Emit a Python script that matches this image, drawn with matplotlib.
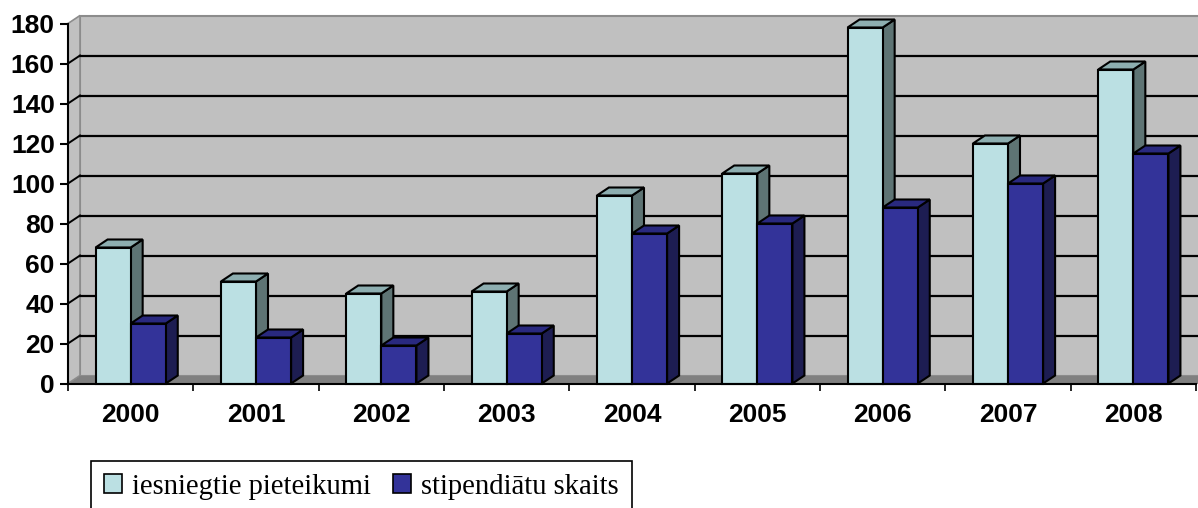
"""Excel-style 3D clustered columns: applications vs. scholarship holders per year."""

import matplotlib.pyplot as plt
from matplotlib.patches import Patch, Polygon

years = ["2000", "2001", "2002", "2003", "2004", "2005", "2006", "2007", "2008"]
iesniegtie = [68, 51, 45, 46, 94, 105, 178, 120, 157]
stipendiati = [30, 23, 19, 25, 75, 80, 88, 100, 115]
series_names = ["iesniegtie pieteikumi", "stipendiātu skaits"]
y_ticks = list(range(0, 181, 20))

# face colours: front, top, side
LIGHT = ("#BBE0E3", "#8DAEB0", "#5E7474")
DARK = ("#333399", "#29297F", "#1D1D52")
WALL = "#C0C0C0"
FLOOR = "#808080"

W, H = 1198, 508
fig = plt.figure(figsize=(W / 100, H / 100), dpi=100)
# front plane of the plot area, in pixels
x0, x1, y_bot, y_top = 68, 1196, 383.5, 23.5
ax = fig.add_axes([x0 / W, 1 - y_bot / H, (x1 - x0) / W, (y_bot - y_top) / H])
ax.set_xlim(-0.5, len(years) - 0.5)
ax.set_ylim(0, 180)
ax.patch.set_visible(False)

# 3D depth offset expressed in data units (12 px right, 8 px up)
dx = 12 / ((x1 - x0) / len(years))
dy = 8 / ((y_bot - y_top) / 180)
xl, xr = -0.5, len(years) - 0.5 + 0.3

# back wall, side wall, floor
ax.add_patch(Polygon([(xl + dx, dy), (xr, dy), (xr, 180 + dy), (xl + dx, 180 + dy)],
                     closed=True, fc=WALL, ec="#8C8C8C", lw=1.5, zorder=0, clip_on=False))
ax.add_patch(Polygon([(xl, 0), (xl + dx, dy), (xl + dx, 180 + dy), (xl, 180)],
                     closed=True, fc=WALL, ec="#8C8C8C", lw=1.2, zorder=0, clip_on=False))
ax.add_patch(Polygon([(xl, 0), (xr, 0), (xr, dy), (xl + dx, dy)],
                     closed=True, fc=FLOOR, ec="none", zorder=0.5, clip_on=False))

# gridlines on back wall plus the slanted bit on the side wall
for v in y_ticks[1:-1]:
    ax.plot([xl + dx, xr], [v + dy, v + dy], color="black", lw=1.6, zorder=1, clip_on=False)
    ax.plot([xl, xl + dx], [v, v + dy], color="black", lw=1.4, zorder=1, clip_on=False)


def draw_bar(x_left, width, value, colors, z):
    front, top, side = colors
    ax.bar(x_left, value, width, align="edge", color=front, edgecolor="black",
           linewidth=1.5, zorder=z + 0.2, clip_on=False)
    ax.add_patch(Polygon([(x_left, value), (x_left + width, value),
                          (x_left + width + dx, value + dy), (x_left + dx, value + dy)],
                         closed=True, fc=top, ec="black", lw=1.5, zorder=z + 0.1, clip_on=False))
    ax.add_patch(Polygon([(x_left + width, 0), (x_left + width + dx, dy),
                          (x_left + width + dx, value + dy), (x_left + width, value)],
                         closed=True, fc=side, ec="black", lw=1.5, zorder=z, clip_on=False))


bw = 0.28
for i in range(len(years)):
    draw_bar(i - bw, bw, iesniegtie[i], LIGHT, 2 + i)
    draw_bar(i, bw, stipendiati[i], DARK, 2.5 + i)

# axes lines and ticks
for s in ("top", "right"):
    ax.spines[s].set_visible(False)
for s in ("left", "bottom"):
    ax.spines[s].set_linewidth(1.5)
    ax.spines[s].set_zorder(20)

ax.set_yticks(y_ticks)
ax.set_yticklabels([str(v) for v in y_ticks])
ax.tick_params(axis="y", length=6, width=1.5, pad=3.5)
ax.set_xticks(range(len(years)))
ax.set_xticklabels(years)
ax.set_xticks([i - 0.5 for i in range(len(years) + 1)], minor=True)
ax.tick_params(axis="x", which="major", length=0, pad=14)
ax.tick_params(axis="x", which="minor", length=5, width=1.2)
for lab in ax.get_yticklabels():
    lab.set_fontfamily("Liberation Sans")
    lab.set_fontweight("bold")
    lab.set_fontsize(19)
for lab in ax.get_xticklabels():
    lab.set_fontfamily("Liberation Sans")
    lab.set_fontweight("bold")
    lab.set_fontsize(19)

handles = [Patch(facecolor=LIGHT[0], edgecolor="black", linewidth=1.2),
           Patch(facecolor=DARK[0], edgecolor="black", linewidth=1.2)]
leg = fig.legend(handles, series_names, loc="upper left",
                 bbox_to_anchor=(91 / W, 1 - 461 / H), ncol=2, frameon=True,
                 fancybox=False, edgecolor="black", framealpha=1, borderaxespad=0,
                 prop={"family": "Liberation Serif", "size": 20.6},
                 handlelength=0.64, handleheight=0.64, handletextpad=0.36,
                 columnspacing=0.75, borderpad=0.45)
leg.get_frame().set_linewidth(1.2)

fig.savefig("out.png", dpi=100)
